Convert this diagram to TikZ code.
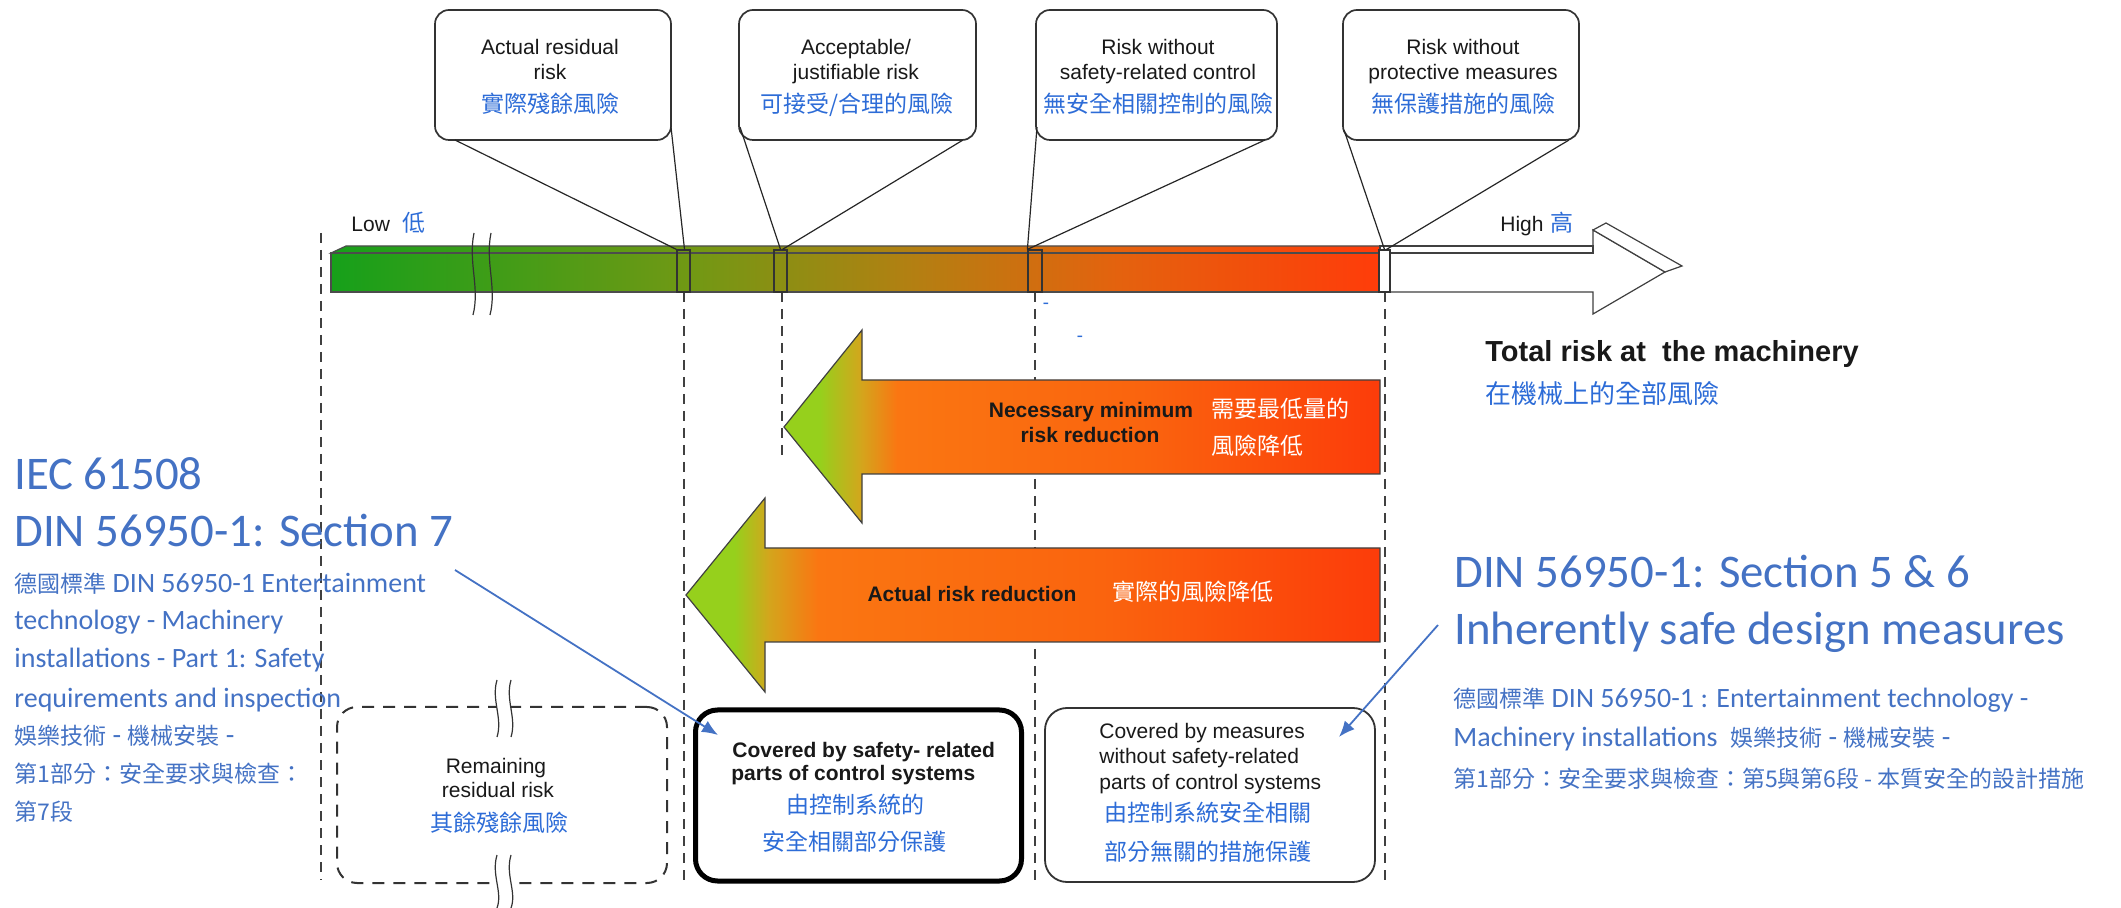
\documentclass[tikz,border=0pt]{standalone}
\usepackage{fontspec}
\setmainfont{Liberation Sans}
\newfontfamily\cjkfont{Noto Sans CJK TC}
\newfontfamily\calfont{Carlito}
\usetikzlibrary{arrows.meta}
\definecolor{txtblue}{RGB}{68,114,196}
\definecolor{cjkblue}{RGB}{45,108,215}
\definecolor{bA}{RGB}{22,160,26}
\definecolor{bB}{RGB}{115,152,20}
\definecolor{bC}{RGB}{178,128,18}
\definecolor{bD}{RGB}{228,98,14}
\definecolor{bE}{RGB}{255,60,10}
\pgfdeclarehorizontalshading{barshade}{100bp}{color(0bp)=(bA); color(25bp)=(bA); color(42.5bp)=(bB); color(52.5bp)=(bC); color(62.5bp)=(bD); color(75bp)=(bE); color(100bp)=(bE)}
\definecolor{aG}{RGB}{150,208,28}
\definecolor{aY}{RGB}{212,165,28}
\definecolor{aO}{RGB}{250,118,18}
\definecolor{aO2}{RGB}{250,100,14}
\definecolor{aR}{RGB}{252,60,10}
\pgfdeclarehorizontalshading{necshade}{100bp}{color(0bp)=(aG); color(25bp)=(aG); color(28bp)=(aG); color(31.5bp)=(aY); color(34.5bp)=(aO); color(55bp)=(aO2); color(75bp)=(aR); color(100bp)=(aR)}
\pgfdeclarehorizontalshading{actshade}{100bp}{color(0bp)=(aG); color(25bp)=(aG); color(28.5bp)=(aG); color(31bp)=(aY); color(34.5bp)=(aO); color(55bp)=(aO2); color(75bp)=(aR); color(100bp)=(aR)}
\newcommand{\zh}[1]{{\cjkfont\fontsize{11.5pt}{13pt}\selectfont #1}}
\begin{document}
\begin{tikzpicture}[x=0.5pt,y=-0.5pt,
  en/.style={inner sep=0pt, anchor=base, text=black!90, font=\fontsize{10.5pt}{12pt}\selectfont},
  enb/.style={inner sep=0pt, anchor=base, text=black!90, font=\bfseries\fontsize{10.5pt}{12pt}\selectfont},
  cj/.style={inner sep=0pt, anchor=base, text=cjkblue, font=\cjkfont\fontsize{11.5pt}{13pt}\selectfont},
  cjw/.style={cj, text=white},
  big/.style={inner sep=0pt, anchor=base west, text=txtblue, font=\calfont\fontsize{23.4pt}{26pt}\selectfont},
  small/.style={inner sep=0pt, anchor=base west, text=txtblue, font=\calfont\fontsize{14pt}{16pt}\selectfont},
  smallzh/.style={inner sep=0pt, anchor=base west, text=txtblue, font=\cjkfont\fontsize{11.5pt}{13pt}\selectfont},
  callout/.style={draw=black!80, line width=0.85pt, rounded corners=7pt, fill=white, inner sep=0pt},
  tail/.style={draw=black!85, line width=0.6pt},
  guide/.style={draw=black!75, line width=0.6pt, dash pattern=on 5pt off 3.5pt},
  marker/.style={draw=black!80, line width=0.6pt, inner sep=0pt},
  wave/.style={draw=black!80, line width=0.6pt},
  link/.style={draw=txtblue, line width=0.9pt, -{Latex[length=8pt,width=6.5pt]}},
]
\useasboundingbox (0,0) rectangle (2121,908);

% dashed guide lines
\draw[guide] (321,233) -- (321,880);
\draw[guide] (684,292) -- (684,885);
\draw[guide] (782,292) -- (782,455);
\draw[guide] (1035,292) -- (1035,885);
\draw[guide] (1385,292) -- (1385,882);

% risk bar
\shadedraw[shading=barshade, draw=black!70, line width=0.6pt] (331,253) -- (346,246) -- (1380,246) -- (1380,253) -- cycle;
\shadedraw[shading=barshade, draw=black!70, line width=0.6pt] (331,253) rectangle (1380,292);
\draw[black!75, line width=0.6pt, fill=white] (1380,253) -- (1593,253) -- (1593,230) -- (1665,272) -- (1593,314) -- (1593,292) -- (1380,292) -- cycle;
\draw[black!75, line width=0.6pt, fill=white] (1380,246) -- (1593,246) -- (1593,253) -- (1380,253) -- cycle;
\draw[black!75, line width=0.6pt, fill=white] (1593,230) -- (1606,223) -- (1682,266) -- (1665,272) -- cycle;

% markers
\node[marker, minimum width=6.5pt, minimum height=21pt] (m1) at (683.5,271) {};
\node[marker, minimum width=6.5pt, minimum height=21pt] (m2) at (780.5,271) {};
\node[marker, minimum width=7pt, minimum height=21pt] (m3) at (1035,271) {};
\node[marker, fill=white, minimum width=5.5pt, minimum height=21pt] (m4) at (1384.5,271) {};

% break marks on bar
\draw[wave] (474,233) .. controls (468,262) and (480,288) .. (473,315);
\draw[wave] (491,233) .. controls (485,262) and (497,288) .. (490,315);

% callout boxes
\node[callout, minimum width=118pt, minimum height=65pt] (b1) at (553,75) {};
\node[callout, minimum width=118.5pt, minimum height=65pt] (b2) at (857.5,75) {};
\node[callout, minimum width=120.5pt, minimum height=65pt] (b3) at (1156.5,75) {};
\node[callout, minimum width=118pt, minimum height=65pt] (b4) at (1461,75) {};

\coordinate (t1a) at (455,140); \coordinate (t1b) at (671,127);
\coordinate (t2a) at (740,127); \coordinate (t2b) at (963,140);
\coordinate (t3a) at (1037,127); \coordinate (t3b) at (1265,140);
\coordinate (t4a) at (1344,130); \coordinate (t4b) at (1569,140);
\draw[tail] (t1a) -- (m1.north west); \draw[tail] (t1b) -- ([xshift=0.5pt]m1.north);
\draw[tail] (t2a) -- (m2.north); \draw[tail] (t2b) -- ([xshift=1pt]m2.north);
\draw[tail] (t3a) -- (m3.north west); \draw[tail] (t3b) -- (m3.north west);
\draw[tail] (t4a) -- (m4.north); \draw[tail] (t4b) -- ([xshift=1pt]m4.north);

% callout texts
\node[en] (b1l1) at (550,55) {Actual residual};
\node[en] (b1l2) at (550,80) {risk};
\node[cj] (b1c) at (550,113) {實際殘餘風險};
\node[en] (b2l1) at (856,55) {Acceptable/};
\node[en] (b2l2) at (856,80) {justifiable risk};
\node[cj] (b2c) at (857,113) {可接受/合理的風險};
\node[en] (b3l1) at (1158,55) {Risk without};
\node[en] (b3l2) at (1158,80) {safety-related control};
\node[cj] (b3c) at (1158,113) {無安全相關控制的風險};
\node[en] (b4l1) at (1463,55) {Risk without};
\node[en] (b4l2) at (1463,80) {protective measures};
\node[cj] (b4c) at (1463,113) {無保護措施的風險};

% low / high
\node[en, anchor=base west] (low) at (351,232) {Low};
\node[cj, anchor=base west] (lowc) at (402,232) {低};
\node[en, anchor=base west] (high) at (1500,232) {High};
\node[cj, anchor=base west] (highc) at (1550,232) {高};

% total risk
\node[inner sep=0pt, anchor=base west, text=black!90, font=\bfseries\fontsize{14.5pt}{16pt}\selectfont] (total) at (1485,362) {Total risk at\ \ the machinery};
\node[cj, anchor=base west, font=\cjkfont\fontsize{13pt}{15pt}\selectfont] (totalc) at (1485,404) {在機械上的全部風險};

% small blue marks
\node[inner sep=0pt, text=cjkblue, font=\calfont\fontsize{10pt}{12pt}\selectfont] (dm1) at (1046,306) {-};
\node[inner sep=0pt, text=cjkblue, font=\calfont\fontsize{10pt}{12pt}\selectfont] (dm2) at (1080,339) {-};

% risk reduction arrows
\shadedraw[shading=necshade, draw=black!75, line width=0.6pt] (1380,380) -- (862,380) -- (862,330) -- (784,427) -- (862,523) -- (862,474) -- (1380,474) -- cycle;
\shadedraw[shading=actshade, draw=black!75, line width=0.6pt] (1380,548) -- (765,548) -- (765,498) -- (686,595) -- (765,692) -- (765,642) -- (1380,642) -- cycle;

\node[enb] (nec1) at (1091,418) {Necessary minimum};
\node[enb] (nec2) at (1090,443) {risk reduction};
\node[cjw, anchor=base west] (necc1) at (1211,418) {需要最低量的};
\node[cjw, anchor=base west] (necc2) at (1211,455) {風險降低};
\node[enb] (act1) at (972,602) {Actual risk reduction};
\node[cjw, anchor=base west] (actc) at (1112,601) {實際的風險降低};

% bottom boxes
\node[draw=black!80, line width=1pt, dash pattern=on 6pt off 4.5pt, rounded corners=10pt, minimum width=165pt, minimum height=88pt, inner sep=0pt] (rem) at (502,795) {};
\node[draw=black, line width=2.5pt, rounded corners=11pt, minimum width=163pt, minimum height=85.5pt, inner sep=0pt] (cov1) at (858.5,795.5) {};
\node[draw=black!80, line width=0.9pt, rounded corners=11pt, minimum width=165pt, minimum height=87pt, inner sep=0pt] (cov2) at (1210,795) {};

% break marks on remaining box
\path[fill=white] (497,680) .. controls (491,700) and (503,718) .. (497,737) -- (511,737) .. controls (517,718) and (505,700) .. (511,680) -- cycle;
\draw[wave] (497,680) .. controls (491,700) and (503,718) .. (497,737);
\draw[wave] (511,680) .. controls (505,700) and (517,718) .. (511,737);
\path[fill=white] (497,855) .. controls (491,875) and (503,892) .. (497,908) -- (511,908) .. controls (517,892) and (505,875) .. (511,855) -- cycle;
\draw[wave] (497,855) .. controls (491,875) and (503,892) .. (497,908);
\draw[wave] (511,855) .. controls (505,875) and (517,892) .. (511,908);

\node[en] (rem1) at (496,773) {Remaining};
\node[en] (rem2) at (498,798) {residual risk};
\node[cj] (remc) at (499,831) {其餘殘餘風險};

\node[enb, anchor=base west] (c1l1) at (732,757) {Covered by safety- related};
\node[enb, anchor=base west] (c1l2) at (731,780) {parts of control systems};
\node[cj] (c1c1) at (855,813) {由控制系統的};
\node[cj] (c1c2) at (854,850) {安全相關部分保護};

\node[en, anchor=base west] (c2l1) at (1099,739) {Covered by measures};
\node[en, anchor=base west] (c2l2) at (1099,763) {without safety-related};
\node[en, anchor=base west] (c2l3) at (1099,790) {parts of control systems};
\node[cj] (c2c1) at (1208,821) {由控制系統安全相關};
\node[cj] (c2c2) at (1208,860) {部分無關的措施保護};

% left standard text
\node[big] (iec) at (14,490) {IEC 61508};
\node[big] (din7) at (14,547) {DIN 56950-1: Section 7};
\node[small] (l1) at (14,593) {\zh{德國標準} DIN 56950-1 Entertainment};
\node[small] (l2) at (14,630) {technology - Machinery};
\node[small] (l3) at (14,668) {installations - Part 1: Safety};
\node[small] (l4) at (14,707) {requirements and inspection};
\node[small] (l5) at (14,745) {\zh{娛樂技術} - \zh{機械安裝} -};
\node[smallzh] (l6) at (14,782) {第1部分：安全要求與檢查：};
\node[smallzh] (l7) at (14,820) {第7段};

% right standard text
\node[big] (din56) at (1454,588) {DIN 56950-1: Section 5 \& 6};
\node[big] (inh) at (1454,645) {Inherently safe design measures};
\node[small] (r1) at (1453,708) {\zh{德國標準} DIN 56950-1 : Entertainment technology -};
\node[small] (r2) at (1453,747) {Machinery installations\ \ \zh{娛樂技術} - \zh{機械安裝} -};
\node[smallzh] (r3) at (1453,787) {第1部分：安全要求與檢查：第5與第6段 - 本質安全的設計措施};

% blue pointer arrows
\coordinate (la) at (455,570);
\coordinate (lb) at (718,735);
\coordinate (ra) at (1438,625);
\coordinate (rb) at (1339,737);
\draw[link] (la) -- (lb);
\draw[link] (ra) -- (rb);
\end{tikzpicture}
\end{document}
